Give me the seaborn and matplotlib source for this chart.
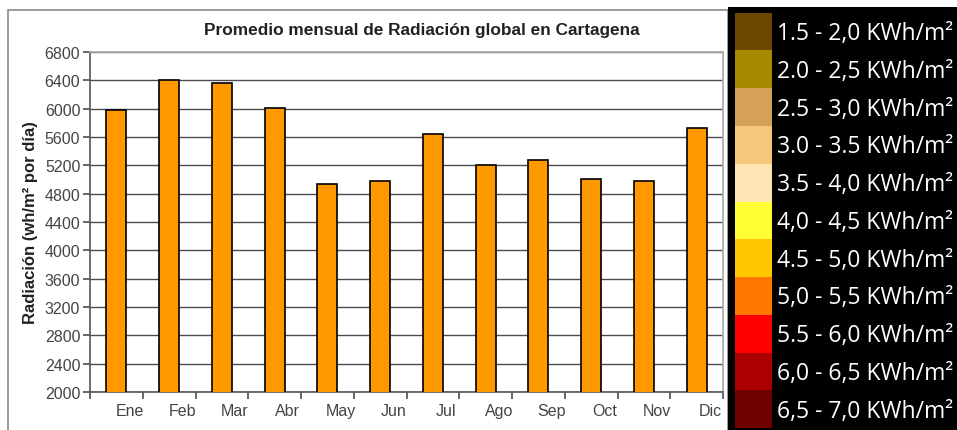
import matplotlib
matplotlib.use("Agg")
import matplotlib.pyplot as plt
from matplotlib.patches import Rectangle
import numpy as np
import pandas as pd
import seaborn as sns

# datos de la gráfica
meses = ["Ene", "Feb", "Mar", "Abr", "May", "Jun", "Jul", "Ago", "Sep", "Oct", "Nov", "Dic"]
radiacion = [5980, 6405, 6362, 6005, 4936, 4978, 5637, 5204, 5270, 5002, 4978, 5727]
y_ticks = list(range(2000, 6801, 400))

# leyenda de colores
rangos = ["1.5 - 2,0 KWh/m²", "2.0 - 2,5 KWh/m²", "2.5 - 3,0 KWh/m²", "3.0 - 3.5 KWh/m²",
          "3.5 - 4,0 KWh/m²", "4,0 - 4,5 KWh/m²", "4.5 - 5,0 KWh/m²", "5,0 - 5,5 KWh/m²",
          "5.5 - 6,0 KWh/m²", "6,0 - 6,5 KWh/m²", "6,5 - 7,0 KWh/m²"]
colores = ["#6B4700", "#A88A00", "#D4A05A", "#F5C77A", "#FFE5B4", "#FFFF33",
           "#FFC800", "#FF7700", "#FF0000", "#AA0000", "#6E0000"]

sns.set_theme(style="white")
plt.rcParams["font.family"] = ["Liberation Sans", "DejaVu Sans"]

W, H = 957, 431
fig = plt.figure(figsize=(W / 100, H / 100), dpi=100)

def fx(px):
    return px / W

def fy(py):
    return 1 - py / H

# marco del gráfico
fig.patches.append(Rectangle((fx(8), fy(440)), fx(728) - fx(8), fy(11) - fy(440),
                             transform=fig.transFigure, facecolor="white",
                             edgecolor="#8a8a8a", lw=1.2, zorder=-5))

ax = fig.add_axes([fx(90), fy(393), fx(723) - fx(90), fy(53) - fy(393)])
df = pd.DataFrame({"mes": meses, "rad": radiacion})
sns.barplot(data=df, x="mes", y="rad", color="#FF9900", saturation=1,
            edgecolor="black", linewidth=1.2, width=0.38, ax=ax, zorder=3)

ax.set_ylim(2000, 6800)
ax.set_xlim(-0.5, len(meses) - 0.5)
ax.set_yticks(y_ticks)
ax.set_yticklabels([str(v) for v in y_ticks], fontsize=11.5, color="#444444")
ax.yaxis.grid(True, color="#4d4d4d", lw=1)
ax.set_axisbelow(True)

# ticks en los límites de categoría, etiquetas desplazadas
ax.set_xticks(np.arange(-0.5, len(meses), 1))
ax.set_xticklabels([])
ax.set_xticks(np.arange(len(meses)) + 0.25, minor=True)
ax.set_xticklabels(meses, minor=True, fontsize=11.5, color="#444444")
ax.tick_params(axis="x", which="major", direction="out", length=5, color="#555555", bottom=True)
ax.tick_params(axis="x", which="minor", length=0, pad=8)
ax.tick_params(axis="y", direction="out", length=5, color="#555555", left=True, pad=2)

for s in ["top", "right"]:
    ax.spines[s].set_color("#aaaaaa")
for s in ["left", "bottom"]:
    ax.spines[s].set_color("#555555")
    ax.spines[s].set_linewidth(1.2)

ax.set_xlabel("")
ax.set_ylabel("Radiación (wh/m² por día)", fontsize=12, fontweight="bold", color="#222222",
              labelpad=5)
fig.text(fx(422), fy(31), "Promedio mensual de Radiación global en Cartagena",
         ha="center", va="center", fontsize=12.4, fontweight="bold", color="#222222")

# panel de leyenda
lax = fig.add_axes([fx(728), fy(431), fx(957) - fx(728), fy(8) - fy(431)])
lax.set_facecolor("black")
n = len(rangos)
lax.barh(np.arange(n), [1] * n, left=0, height=1.0, color=colores, edgecolor="none")
lax.set_ylim(n - 0.5 + 0.05, -0.5 - 0.15)
lax.set_xlim(-0.18, 6.0)
for i, t in enumerate(rangos):
    lax.text(1.13, i + 0.04, t, ha="left", va="center", color="white", fontsize=16.5,
             family=["Open Sans", "DejaVu Sans"])
lax.set_xticks([])
lax.set_yticks([])
for s in lax.spines.values():
    s.set_visible(False)

fig.savefig("out.png", dpi=100)
